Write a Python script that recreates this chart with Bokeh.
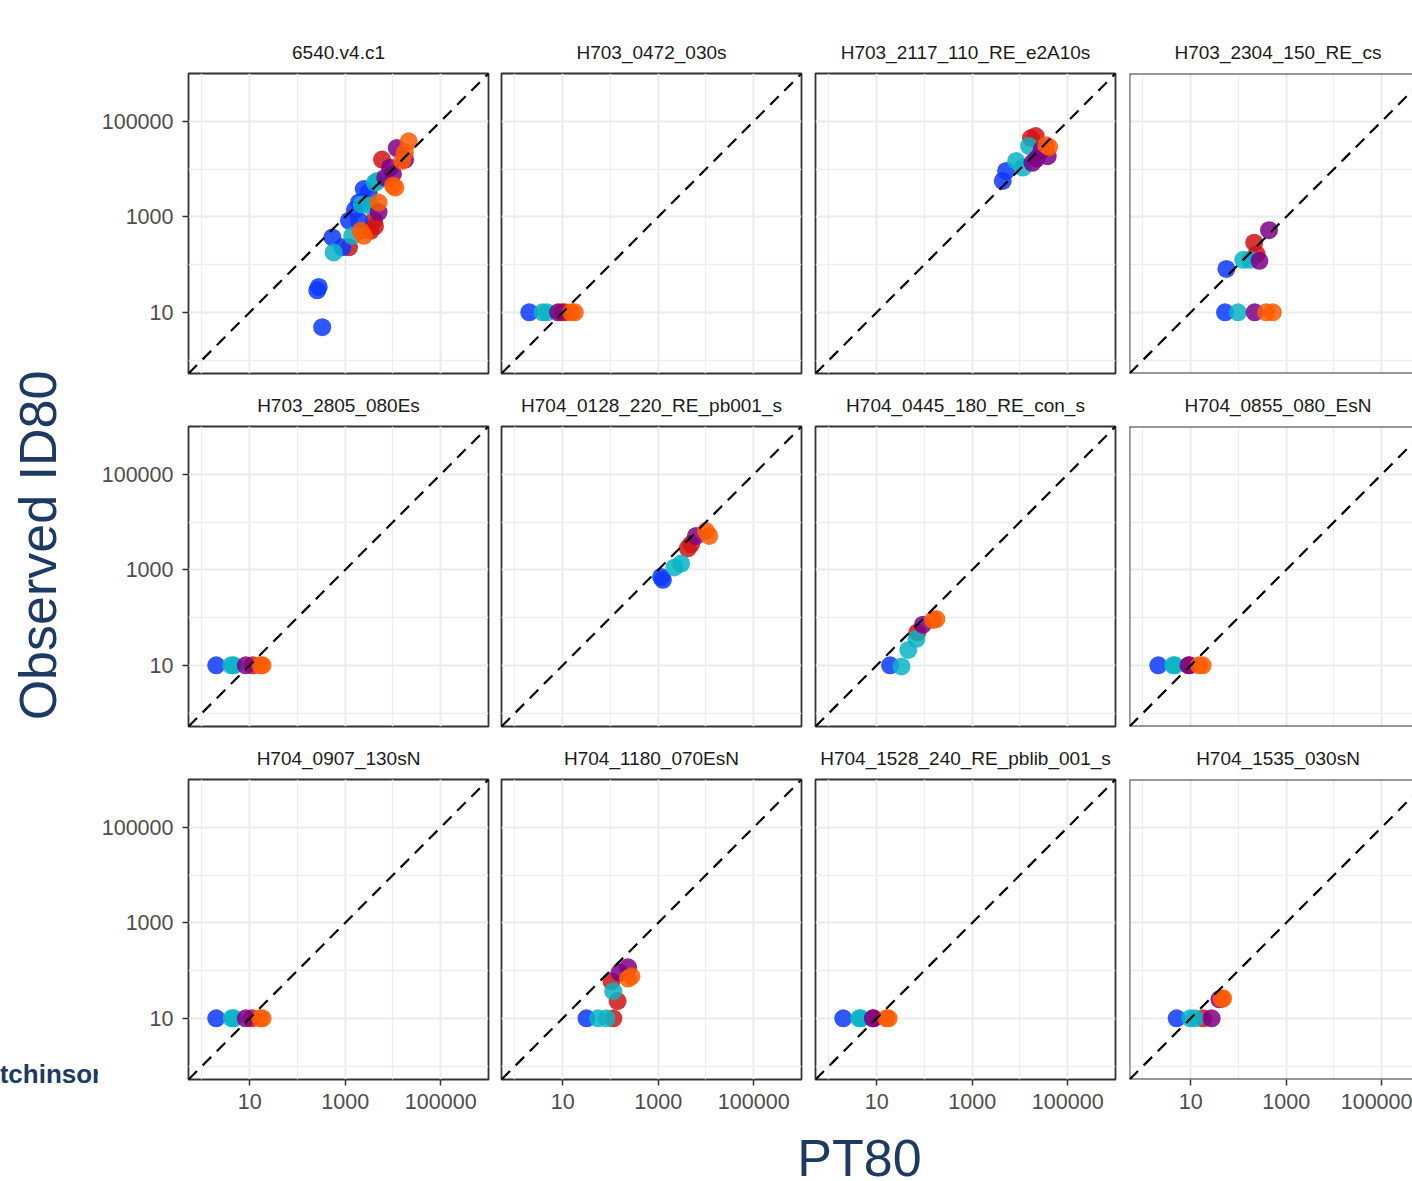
import math
from bokeh.plotting import figure
from bokeh.layouts import row, column
from bokeh.models import Range1d, FixedTicker, PrintfTickFormatter, Slope, ColumnDataSource, Span
from bokeh.transform import factor_cmap
from bokeh.core.properties import value
from bokeh.embed import file_html
from bokeh.resources import INLINE

# ---------------- data ----------------
PANEL_NAMES = [
    "6540.v4.c1", "H703_0472_030s", "H703_2117_110_RE_e2A10s", "H703_2304_150_RE_cs",
    "H703_2805_080Es", "H704_0128_220_RE_pb001_s", "H704_0445_180_RE_con_s", "H704_0855_080_EsN",
    "H704_0907_130sN", "H704_1180_070EsN", "H704_1528_240_RE_pblib_001_s", "H704_1535_030sN",
]

GROUP_KEYS = ["B", "C", "P", "R", "O"]
GROUP_COLORS = ["#0a38ff", "#08b4c6", "#7d0088", "#d01414", "#ff5a00"]

p01_x = [1200, 3400, 4000, 5900, 4200,
         330, 260, 280, 540, 870, 1200, 1950, 1950, 2450, 3100, 1600,
         575, 1400, 2240, 3400, 4700, 4200,
         6900, 8700, 12000, 18000, 5000, 10000,
         2450, 2100, 5000, 11200, 10000, 15500, 21400, 17800]
p01_y = [230, 510, 830, 15800, 630,
         4.9, 29, 34, 370, 230, 830, 830, 2000, 3800, 3200, 1400,
         180, 400, 1800, 1700, 5600, 5200,
         6600, 10700, 27500, 15800, 1260, 7900,
         400, 510, 2000, 4100, 4500, 14800, 38000, 22400]
p01_g = ["R"] * 5 + ["B"] * 11 + ["C"] * 6 + ["P"] * 6 + ["O"] * 8

p02_x = [9.5, 11, 2.0, 3.8, 4.7, 8.0, 15, 18]
p02_y = [10, 10, 10, 10, 10, 10, 10, 10]
p02_g = ["R", "R", "B", "C", "C", "P", "O", "O"]

p03_x = [16982, 21380, 4365, 5129, 8318, 11482, 15488, 18197, 38019, 28184, 22387, 40738, 35481]
p03_y = [44668, 48978, 5623, 9120, 14791, 10715, 30200, 13490, 18621, 25119, 16596, 28840, 31623]
p03_g = ["R", "R", "B", "B", "C", "C", "C", "P", "P", "P", "P", "O", "O"]

p04_x = [214, 240, 56, 52.5, 126, 174, 98, 275, 437, 219, 380, 525]
p04_y = [288, 166, 81, 10, 126, 126, 10, 120, 525, 10, 10, 10]
p04_g = ["R", "R", "B", "B", "C", "C", "C", "P", "P", "P", "O", "O"]

p05_x = [11.5, 2.0, 4.1, 4.7, 8.3, 17, 18.6]
p05_y = [10, 10, 10, 10, 10, 10, 10]
p05_g = ["R", "B", "C", "C", "P", "O", "O"]

p06_x = [4898, 4169, 1259, 1148, 2188, 3020, 6166, 10000, 11749]
p06_y = [3467, 2818, 617, 708, 1122, 1349, 5129, 6457, 5129]
p06_g = ["R", "R", "B", "B", "C", "C", "P", "O", "O"]

p07_x = [71, 19.1, 33, 46, 68, 93, 151, 178]
p07_y = [49, 10, 9.5, 21, 36, 71, 89, 93]
p07_g = ["R", "B", "C", "C", "C", "P", "O", "O"]

p08_x = [9.5, 2.1, 4.3, 4.7, 9.0, 15, 17.8]
p08_y = [10, 10, 10, 10, 10, 10, 10]
p08_g = ["R", "B", "C", "C", "P", "O", "O"]

p09_x = [11, 2.0, 4.2, 4.7, 8.3, 16.6, 18.6]
p09_y = [10, 10, 10, 10, 10, 10, 10]
p09_g = ["R", "B", "C", "C", "P", "O", "O"]

p10_x = [115, 141, 105, 31.6, 55, 83, 115, 155, 234, 275, 234]
p10_y = [10, 23, 60, 10, 10, 10, 37, 91, 117, 76, 68]
p10_g = ["R", "R", "R", "B", "C", "C", "C", "P", "P", "O", "O"]

p11_x = [8.7, 2.0, 4.3, 4.7, 8.3, 16, 17.8]
p11_y = [10, 10, 10, 10, 10, 10, 10]
p11_g = ["R", "B", "C", "C", "P", "O", "O"]

p12_x = [18.2, 5.1, 9.8, 12.3, 27.5, 40, 44.7, 47.9]
p12_y = [10, 10, 10, 10, 10, 25, 25.7, 26.3]
p12_g = ["R", "B", "C", "C", "P", "P", "O", "O"]

PANELS = [(p01_x, p01_y, p01_g), (p02_x, p02_y, p02_g), (p03_x, p03_y, p03_g), (p04_x, p04_y, p04_g),
          (p05_x, p05_y, p05_g), (p06_x, p06_y, p06_g), (p07_x, p07_y, p07_g), (p08_x, p08_y, p08_g),
          (p09_x, p09_y, p09_g), (p10_x, p10_y, p10_g), (p11_x, p11_y, p11_g), (p12_x, p12_y, p12_g)]

MAJOR_TICKS = [10, 1000, 100000]
MINOR_TICKS = [1, 100, 10000, 1000000]

Y_TITLE = "Observed ID80"
X_TITLE = "PT80"
CREDIT = "Hutchinson"

# ---------------- style / layout ----------------
FONT = "Liberation Sans"
NAVY = "#1c3a64"
LOG_LO, LOG_HI = -0.28, 6.0
FRAME = 300
COL_BORDERS = [(90, 7), (6, 7), (7, 7), (7, 0)]
ROW_BORDERS = [(73, 7), (46, 7), (46, 41)]
LAST_FRAME_W = 283
PAGE_H = 1181
LEFT_W = 98
STRIP_PX = 19
# approximate Arial-like advance widths (em) used only to centre the clipped last column's strip text
CHAR_EM = {"_": 0.556, "H": 0.722, "R": 0.722, "E": 0.667, "N": 0.722, "c": 0.5, "s": 0.5}


def text_width(t, px):
    return sum(CHAR_EM.get(ch, 0.556) for ch in t) * px


def style_axis(ax, standoff):
    ax.ticker = FixedTicker(ticks=MAJOR_TICKS, minor_ticks=MINOR_TICKS)
    ax.formatter = PrintfTickFormatter(format="%d")
    ax.axis_line_color = None
    ax.major_tick_line_color = "#333333"
    ax.major_tick_line_width = 1.5
    ax.major_tick_out = 6
    ax.major_tick_in = 0
    ax.minor_tick_out = 0
    ax.minor_tick_in = 0
    ax.major_label_standoff = standoff
    ax.major_label_text_font = FONT
    ax.major_label_text_font_size = "21.5px"
    ax.major_label_text_color = "#4d4d4d"


def make_panel(i):
    r, c = divmod(i, 4)
    bl, br = COL_BORDERS[c]
    bt, bb = ROW_BORDERS[r]
    fw = FRAME if c < 3 else LAST_FRAME_W
    x_hi = 10 ** (LOG_LO + (LOG_HI - LOG_LO) * fw / FRAME)
    p = figure(width=bl + fw + br, height=bt + FRAME + bb,
               x_axis_type="log", y_axis_type="log",
               x_range=Range1d(10 ** LOG_LO, x_hi), y_range=Range1d(10 ** LOG_LO, 10 ** LOG_HI),
               min_border_left=bl, min_border_right=br, min_border_top=bt, min_border_bottom=bb,
               toolbar_location=None, output_backend="svg", title=PANEL_NAMES[i])
    p.title.text_font = FONT
    p.title.text_font_size = f"{STRIP_PX}px"
    p.title.text_font_style = "normal"
    p.title.text_color = "#1a1a1a"
    p.title.standoff = 22
    if c < 3:
        p.title.align = "center"
    else:
        p.title.align = "left"
        p.title.offset = FRAME / 2 - 1.5 - text_width(PANEL_NAMES[i], STRIP_PX) / 2
    p.background_fill_color = "white"
    p.border_fill_color = "white"

    for ax in p.xaxis:
        style_axis(ax, 8)
    for ax in p.yaxis:
        style_axis(ax, 9)
    if c > 0:
        p.yaxis.visible = False
    if r < 2:
        p.xaxis.visible = False

    for g in p.xgrid + p.ygrid:
        g.ticker = FixedTicker(ticks=MAJOR_TICKS, minor_ticks=MINOR_TICKS)
        g.grid_line_color = "#ebebeb"
        g.grid_line_width = 2.0
        g.minor_grid_line_color = "#ededed"
        g.minor_grid_line_width = 1.3

    if c < 3:
        p.outline_line_color = "#333333"
        p.outline_line_width = 1.8
    else:
        p.outline_line_color = None
        for loc, dim in [(10 ** LOG_LO, "width"), (10 ** LOG_HI, "width"), (10 ** LOG_LO, "height")]:
            p.add_layout(Span(location=loc, dimension=dim, line_color="#333333", line_width=1.8))

    p.add_layout(Slope(gradient=1, y_intercept=0, line_color="black", line_width=2.2, line_dash="12 8"))

    xs, ys, gs = PANELS[i]
    src = ColumnDataSource(dict(x=xs, y=ys, g=gs))
    p.scatter("x", "y", source=src, size=18,
              fill_color=factor_cmap("g", GROUP_COLORS, GROUP_KEYS),
              fill_alpha=0.85, line_color=None)
    return p


panels = [make_panel(i) for i in range(12)]
rows = [row(*panels[k * 4:(k + 1) * 4]) for k in range(3)]

# left strip: y title + clipped credit
bottom_h = PAGE_H - sum(bt + FRAME + bb for bt, bb in ROW_BORDERS)
lf = figure(width=LEFT_W, height=PAGE_H, x_range=Range1d(0, LEFT_W), y_range=Range1d(0, PAGE_H),
            min_border=0, toolbar_location=None, output_backend="svg")
lf.axis.visible = False
lf.grid.visible = False
lf.outline_line_color = None
lf.text(x=[37], y=[PAGE_H - 545], text=[Y_TITLE], angle=math.pi / 2,
        text_align="center", text_baseline="alphabetic",
        text_font=value(FONT), text_font_size="52px", text_color=NAVY)
lf.text(x=[-35.5], y=[PAGE_H - 1073], text=[CREDIT], text_align="left", text_baseline="alphabetic",
        text_font=value(FONT), text_font_size="26px", text_font_style="bold", text_color=NAVY)

total_w = 1412
bw = total_w - LEFT_W
bf = figure(width=bw, height=bottom_h, x_range=Range1d(0, bw), y_range=Range1d(0, bottom_h),
            min_border=0, toolbar_location=None, output_backend="svg")
bf.axis.visible = False
bf.grid.visible = False
bf.outline_line_color = None
bf.text(x=[859 - LEFT_W], y=[24], text=[X_TITLE], text_align="center", text_baseline="alphabetic",
        text_font=value(FONT), text_font_size="52px", text_color=NAVY)

layout = row(lf, column(*rows, bf))

open("out.html", "w").write(file_html(layout, INLINE))
